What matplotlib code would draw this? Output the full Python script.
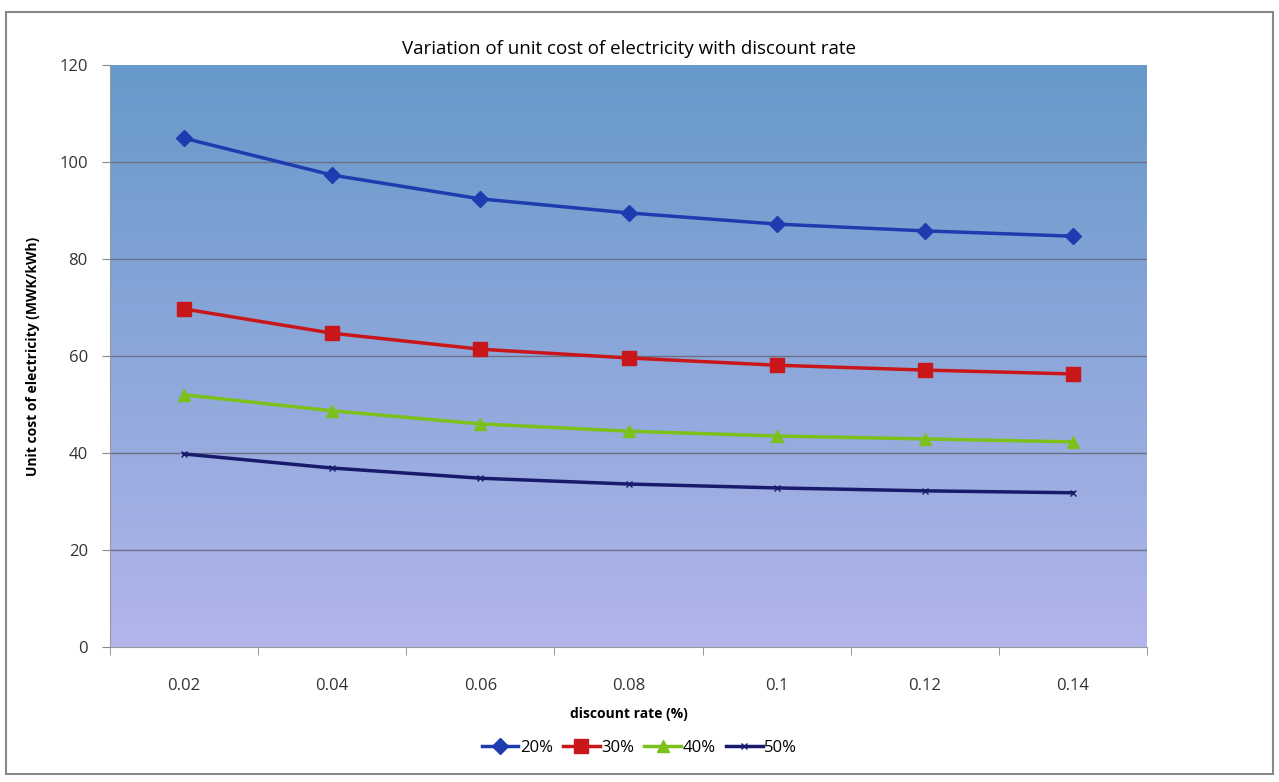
import numpy as np
import matplotlib.pyplot as plt
from matplotlib.patches import Rectangle

rates = ["0.02", "0.04", "0.06", "0.08", "0.1", "0.12", "0.14"]
cost_20 = [104.9, 97.3, 92.4, 89.5, 87.2, 85.8, 84.7]
cost_30 = [69.7, 64.7, 61.4, 59.6, 58.1, 57.1, 56.3]
cost_40 = [52.0, 48.7, 46.0, 44.5, 43.5, 42.9, 42.3]
cost_50 = [39.8, 36.9, 34.8, 33.6, 32.8, 32.2, 31.8]
series_labels = ["20%", "30%", "40%", "50%"]

plt.rcParams['font.family'] = ['Open Sans', 'DejaVu Sans']

fig = plt.figure(figsize=(12.79, 7.82), dpi=100)
fig.patches.append(Rectangle((0.005, 0.01), 0.99, 0.975, transform=fig.transFigure,
                             fill=False, edgecolor='#888888', linewidth=1.5))
ax = fig.add_axes([110 / 1279, 1 - 647 / 782, 1037 / 1279, 582 / 782])

x = np.arange(len(rates))

# gradient background
grad = np.linspace(0, 1, 256).reshape(-1, 1)
top = np.array([0.40, 0.60, 0.79])
bottom = np.array([0.70, 0.71, 0.92])
img = top + (bottom - top) * grad[:, :, None].repeat(1, axis=1)
ax.imshow(img, extent=[-0.5, len(rates) - 0.5, 0, 120], aspect='auto', zorder=0)

for yv in [20, 40, 60, 80, 100]:
    ax.axhline(yv, color='#6a6f86', linewidth=1.0, zorder=1)

ax.plot(x, cost_20, color='#1c3cb0', marker='D', markersize=8, linewidth=2.5, label=series_labels[0], zorder=3)
ax.plot(x, cost_30, color='#c8161b', marker='s', markersize=10, linewidth=2.5, label=series_labels[1], zorder=3)
ax.plot(x, cost_40, color='#7cc01c', marker='^', markersize=9, linewidth=2.5, label=series_labels[2], zorder=3)
ax.plot(x, cost_50, color='#181a6c', marker='x', markersize=5, linewidth=2.5, label=series_labels[3], zorder=3)

ax.set_xlim(-0.5, len(rates) - 0.5)
ax.set_ylim(0, 120)
ax.set_yticks(range(0, 121, 20))
ax.set_xticks(x)
ax.set_xticklabels(rates)
ax.set_xticks(np.arange(-0.5, len(rates)), minor=True)
ax.tick_params(axis='x', which='major', length=0, pad=22, labelsize=12, colors='#333333')
ax.tick_params(axis='x', which='minor', length=6, color='#888888', direction='out')
ax.tick_params(axis='y', length=6, color='#888888', labelsize=12, colors='#333333', pad=10)

for side in ['top', 'right']:
    ax.spines[side].set_visible(False)
ax.spines['left'].set_color('#999999')
ax.spines['bottom'].set_color('#999999')

ax.set_title("Variation of unit cost of electricity with discount rate", fontsize=13.5, pad=8)
ax.set_xlabel("discount rate (%)", fontsize=10, fontweight='bold', labelpad=10)
ax.set_ylabel("Unit cost of electricity (MWK/kWh)", fontsize=10, fontweight='bold', labelpad=14)

fig.legend(loc='center', bbox_to_anchor=(0.5, 1 - 748 / 782), ncol=4, frameon=False,
           fontsize=12, handlelength=2.2, columnspacing=0.6, handletextpad=0.1)

fig.savefig("out.png", dpi=100)
